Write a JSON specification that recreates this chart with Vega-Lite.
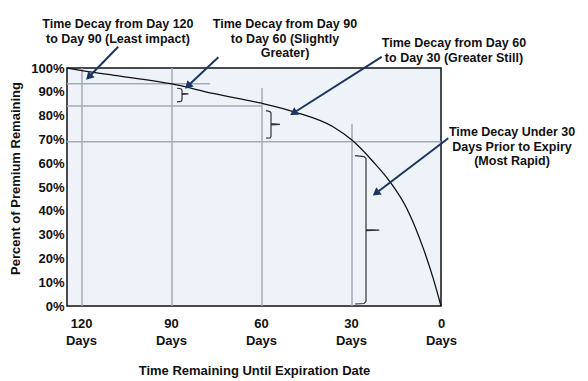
{
  "$schema": "https://vega.github.io/schema/vega-lite/v6.json",
  "width": 374,
  "height": 238,
  "autosize": {"type": "none"},
  "padding": {"left": 67, "top": 68, "right": 147, "bottom": 75},
  "background": "white",
  "config": {
    "font": "Liberation Sans",
    "view": {"stroke": "#111111", "strokeWidth": 1.5, "fill": "#edf3f9"}
  },
  "datasets": {
    "grid": [
      {"day": 119.67, "day2": 119.67, "pct": 0, "pct2": 100},
      {"day": 89.67, "day2": 89.67, "pct": 0, "pct2": 100},
      {"day": 59.67, "day2": 59.67, "pct": 0, "pct2": 91.6},
      {"day": 29.67, "day2": 29.67, "pct": 0, "pct2": 76.5},
      {"day": 124.67, "day2": 77, "pct": 93.4, "pct2": 93.4},
      {"day": 124.67, "day2": 59.67, "pct": 84.0, "pct2": 84.0},
      {"day": 124.67, "day2": 0, "pct": 69.0, "pct2": 69.0}
    ],
    "curve": [
      {"day": 124.67, "pct": 100},
      {"day": 119.67, "pct": 98.9},
      {"day": 107, "pct": 96.6},
      {"day": 89.67, "pct": 93.3},
      {"day": 76, "pct": 89.3},
      {"day": 60.3, "pct": 85.3},
      {"day": 48.7, "pct": 81.5},
      {"day": 36, "pct": 75.3},
      {"day": 29.7, "pct": 69.7},
      {"day": 22.6, "pct": 60.6},
      {"day": 17, "pct": 52.2},
      {"day": 11.4, "pct": 41.0},
      {"day": 5.9, "pct": 24.2},
      {"day": 2.6, "pct": 11.6},
      {"day": 0, "pct": 0}
    ],
    "brackets": [
      {"id": 1, "seq": 1, "day": 88, "pct": 91.5},
      {"id": 1, "seq": 2, "day": 86.67, "pct": 91.3},
      {"id": 1, "seq": 3, "day": 86.33, "pct": 90.7},
      {"id": 1, "seq": 4, "day": 86.33, "pct": 89.3},
      {"id": 1, "seq": 5, "day": 84.17, "pct": 89.1},
      {"id": 1, "seq": 6, "day": 86.33, "pct": 88.9},
      {"id": 1, "seq": 7, "day": 86.33, "pct": 86.6},
      {"id": 1, "seq": 8, "day": 86.67, "pct": 86.0},
      {"id": 1, "seq": 9, "day": 88, "pct": 85.8},
      {"id": 2, "seq": 1, "day": 58.33, "pct": 82.06},
      {"id": 2, "seq": 2, "day": 57, "pct": 81.7},
      {"id": 2, "seq": 3, "day": 56.67, "pct": 81.1},
      {"id": 2, "seq": 4, "day": 56.67, "pct": 76.6},
      {"id": 2, "seq": 5, "day": 53.67, "pct": 76.3},
      {"id": 2, "seq": 6, "day": 56.67, "pct": 76.1},
      {"id": 2, "seq": 7, "day": 56.67, "pct": 71.2},
      {"id": 2, "seq": 8, "day": 57, "pct": 70.6},
      {"id": 2, "seq": 9, "day": 58.33, "pct": 70.5},
      {"id": 3, "seq": 1, "day": 28.67, "pct": 63.15},
      {"id": 3, "seq": 2, "day": 25.67, "pct": 62.8},
      {"id": 3, "seq": 3, "day": 25, "pct": 62.0},
      {"id": 3, "seq": 4, "day": 25, "pct": 32.1},
      {"id": 3, "seq": 5, "day": 20.57, "pct": 31.9},
      {"id": 3, "seq": 6, "day": 25, "pct": 31.7},
      {"id": 3, "seq": 7, "day": 25, "pct": 1.9},
      {"id": 3, "seq": 8, "day": 25.67, "pct": 1.05},
      {"id": 3, "seq": 9, "day": 28.67, "pct": 0.84}
    ],
    "arrows": [
      {"id": 1, "seq": 1, "day": 107.6, "pct": 108.9},
      {"id": 1, "seq": 2, "day": 117.4, "pct": 96.2},
      {"id": 2, "seq": 1, "day": 74.23, "pct": 104.5},
      {"id": 2, "seq": 2, "day": 84.4, "pct": 92.4},
      {"id": 3, "seq": 1, "day": 19.77, "pct": 104.7},
      {"id": 3, "seq": 2, "day": 49.2, "pct": 81.1},
      {"id": 4, "seq": 1, "day": -2.43, "pct": 70.5},
      {"id": 4, "seq": 2, "day": 21.7, "pct": 47.4}
    ],
    "notes": [
      {"label": "Time Decay from Day 120\nto Day 90 (Least impact)", "day": 107.7, "pct": 116.6},
      {"label": "Time Decay from Day 90\nto Day 60 (Slightly\nGreater)", "day": 52, "pct": 116.6},
      {"label": "Time Decay from Day 60\nto Day 30 (Greater Still)", "day": -4.33, "pct": 108.7},
      {"label": "Time Decay Under 30\nDays Prior to Expiry\n(Most Rapid)", "day": -23.67, "pct": 71.3}
    ]
  },
  "encoding": {
    "x": {
      "field": "day", "type": "quantitative",
      "scale": {"domain": [124.67, 0], "nice": false, "zero": false},
      "axis": {
        "values": [120, 90, 60, 30, 0],
        "labelExpr": "[datum.label, 'Days']",
        "labelFont": "Liberation Sans", "labelFontSize": 13, "labelFontWeight": "bold", "labelColor": "#111111",
        "labelLineHeight": 17, "labelBaseline": "top", "labelPadding": 11,
        "labelFlush": false, "labelOverlap": false,
        "ticks": false, "domain": false, "grid": false,
        "title": "Time Remaining Until Expiration Date",
        "titleFont": "Liberation Sans", "titleFontSize": 13, "titleFontWeight": "bold", "titleColor": "#111111",
        "titleBaseline": "middle", "titleY": 64.5
      }
    },
    "y": {
      "field": "pct", "type": "quantitative",
      "scale": {"domain": [0, 100], "nice": false, "zero": false},
      "axis": {
        "values": [0, 10, 20, 30, 40, 50, 60, 70, 80, 90, 100],
        "labelExpr": "datum.value + '%'",
        "labelFont": "Liberation Sans", "labelFontSize": 13, "labelFontWeight": "bold", "labelColor": "#111111",
        "labelPadding": 3, "labelOverlap": false, "labelFlush": false,
        "ticks": false, "domain": false, "grid": false,
        "title": "Percent of Premium Remaining",
        "titleFont": "Liberation Sans", "titleFontSize": 13, "titleFontWeight": "bold", "titleColor": "#111111",
        "titleAngle": -90, "titleAlign": "center", "titleBaseline": "middle",
        "titleX": -52, "titleY": 110
      }
    }
  },
  "layer": [
    {
      "data": {"name": "grid"},
      "mark": {"type": "rule", "color": "#a3abb5", "strokeWidth": 1.5},
      "encoding": {
        "x2": {"field": "day2"},
        "y2": {"field": "pct2"}
      }
    },
    {
      "data": {"name": "curve"},
      "mark": {"type": "line", "color": "#111111", "strokeWidth": 1.3, "interpolate": "monotone"},
      "encoding": {}
    },
    {
      "data": {"name": "brackets"},
      "mark": {"type": "line", "color": "#333333", "strokeWidth": 1.2},
      "encoding": {
        "detail": {"field": "id", "type": "nominal"},
        "order": {"field": "seq", "type": "quantitative"}
      }
    },
    {
      "data": {"name": "arrows"},
      "mark": {"type": "line", "color": "#1c3560", "strokeWidth": 2},
      "encoding": {
        "detail": {"field": "id", "type": "nominal"},
        "order": {"field": "seq", "type": "quantitative"}
      }
    },
    {
      "data": {"name": "arrows"},
      "transform": [{"filter": "datum.id == 1 && datum.seq == 2"}],
      "mark": {"type": "point", "shape": "triangle-up", "filled": true, "opacity": 1, "color": "#1c3560", "size": 80, "angle": 224}
    },
    {
      "data": {"name": "arrows"},
      "transform": [{"filter": "datum.id == 2 && datum.seq == 2"}],
      "mark": {"type": "point", "shape": "triangle-up", "filled": true, "opacity": 1, "color": "#1c3560", "size": 80, "angle": 225.5}
    },
    {
      "data": {"name": "arrows"},
      "transform": [{"filter": "datum.id == 3 && datum.seq == 2"}],
      "mark": {"type": "point", "shape": "triangle-up", "filled": true, "opacity": 1, "color": "#1c3560", "size": 80, "angle": 237.5}
    },
    {
      "data": {"name": "arrows"},
      "transform": [{"filter": "datum.id == 4 && datum.seq == 2"}],
      "mark": {"type": "point", "shape": "triangle-up", "filled": true, "opacity": 1, "color": "#1c3560", "size": 80, "angle": 233}
    },
    {
      "data": {"name": "notes"},
      "mark": {"type": "text", "font": "Liberation Sans", "fontSize": 12.5, "fontWeight": "bold", "color": "#111111", "align": "center", "baseline": "alphabetic", "lineBreak": "\n", "lineHeight": 14.5},
      "encoding": {
        "text": {"field": "label", "type": "nominal"}
      }
    }
  ]
}
